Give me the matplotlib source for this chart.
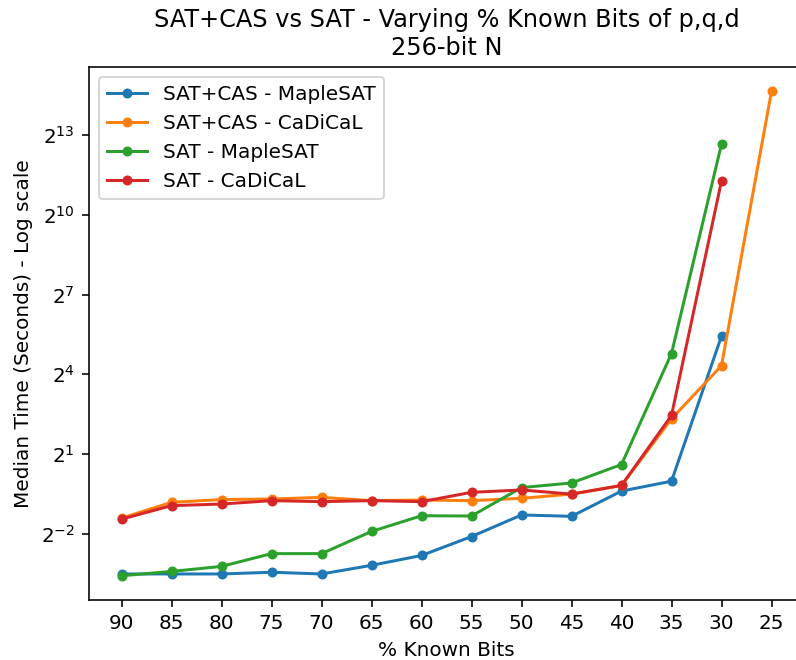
import matplotlib
matplotlib.use("Agg")
import matplotlib.pyplot as plt

known_bits = [90, 85, 80, 75, 70, 65, 60, 55, 50, 45, 40, 35, 30, 25]

# median times in seconds
satcas_maple = [0.087, 0.087, 0.087, 0.091, 0.087, 0.109, 0.141, 0.231, 0.406, 0.392, 0.758, 0.98, 43.3]
satcas_cadical = [0.374, 0.565, 0.607, 0.616, 0.643, 0.59, 0.60, 0.59, 0.627, 0.70, 0.877, 5.0, 20.0, 25900]
sat_maple = [0.083, 0.093, 0.106, 0.148, 0.148, 0.264, 0.398, 0.395, 0.83, 0.936, 1.516, 27.5, 6520]
sat_cadical = [0.364, 0.518, 0.54, 0.59, 0.575, 0.59, 0.575, 0.733, 0.78, 0.70, 0.877, 5.46, 2490]

fig = plt.figure(figsize=(796 / 144, 660 / 144), dpi=144)
ax = fig.add_axes([89 / 796, 60 / 660, 715 / 796, 533 / 660])

ax.plot(known_bits[:len(satcas_maple)], satcas_maple, marker='o', markersize=4, label="SAT+CAS - MapleSAT")
ax.plot(known_bits[:len(satcas_cadical)], satcas_cadical, marker='o', markersize=4, label="SAT+CAS - CaDiCaL")
ax.plot(known_bits[:len(sat_maple)], sat_maple, marker='o', markersize=4, label="SAT - MapleSAT")
ax.plot(known_bits[:len(sat_cadical)], sat_cadical, marker='o', markersize=4, label="SAT - CaDiCaL")

ax.set_yscale('log', base=2)
ax.set_xticks(known_bits)
ax.invert_xaxis()
ax.set_xlabel("% Known Bits")
ax.set_ylabel("Median Time (Seconds) - Log scale")
ax.set_title("SAT+CAS vs SAT - Varying % Known Bits of p,q,d\n256-bit N")
ax.legend(loc='upper left')

fig.savefig("out.png", dpi=144)
